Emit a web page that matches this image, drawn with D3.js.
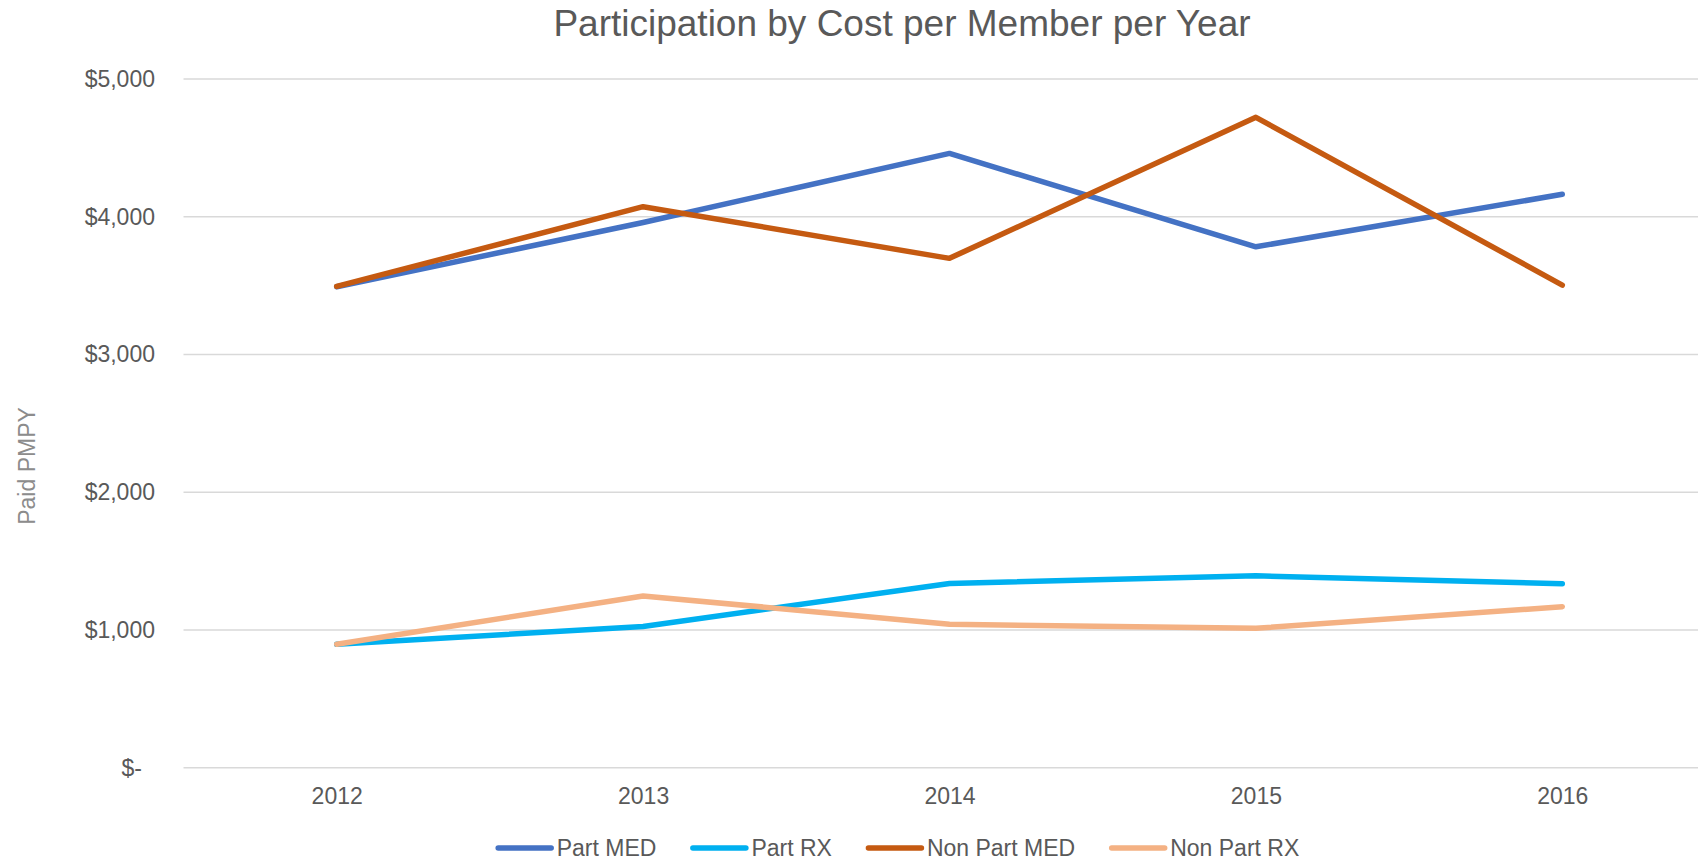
<!DOCTYPE html>
<html>
<head>
<meta charset="utf-8">
<script src="https://cdn.jsdelivr.net/npm/d3@7"></script>
<style>
  body { margin: 0; background: #fff; }
  svg { display: block; font-family: "Liberation Sans", Arial, sans-serif; }
</style>
</head>
<body>
<script>
var years = ["2012", "2013", "2014", "2015", "2016"];
var seriesNames = ["Part MED", "Part RX", "Non Part MED", "Non Part RX"];
var seriesColors = ["#4472C4", "#00B0F0", "#C55A11", "#F4B183"];
var partMed = [3492, 3958, 4460, 3782, 4163];
var partRx = [896, 1025, 1338, 1393, 1336];
var nonPartMed = [3494, 4073, 3698, 4722, 3504];
var nonPartRx = [896, 1247, 1041, 1012, 1169];
var yTicks = [0, 1000, 2000, 3000, 4000, 5000];

var width = 1698, height = 860;
var values = [partMed, partRx, nonPartMed, nonPartRx];

var svg = d3.select("body").append("svg")
    .attr("width", width)
    .attr("height", height);

var x = d3.scalePoint()
    .domain(years)
    .range([183.5, 1715.5])
    .padding(0.5);

var y = d3.scaleLinear()
    .domain([0, 5000])
    .range([767.7, 79]);

// gridlines
svg.append("g")
    .selectAll("line")
    .data(yTicks)
    .enter().append("line")
      .attr("x1", 183.5)
      .attr("x2", 1715.5)
      .attr("y1", function(d) { return y(d); })
      .attr("y2", function(d) { return y(d); })
      .attr("stroke", "#d9d9d9")
      .attr("stroke-width", 1.5);

// y axis labels
var yAxis = d3.axisLeft(y)
    .tickValues(yTicks)
    .tickSize(0)
    .tickPadding(0)
    .tickFormat(function(d) { return d === 0 ? "$-" : "$" + d3.format(",")(d); });

var gy = svg.append("g")
    .attr("transform", "translate(155,0)")
    .call(yAxis);
gy.select(".domain").remove();
gy.selectAll("text")
    .attr("fill", "#595959")
    .style("font-size", "23px")
    .attr("dx", function(d) { return d === 0 ? -13 : 0; });

// x axis labels
var xAxis = d3.axisBottom(x).tickSize(0).tickPadding(0);
var gx = svg.append("g")
    .attr("transform", "translate(0,788)")
    .call(xAxis);
gx.select(".domain").remove();
gx.selectAll("text")
    .attr("fill", "#595959")
    .style("font-size", "23px")
    .attr("dy", "0.71em");

// lines
var line = d3.line()
    .x(function(d, i) { return x(years[i]); })
    .y(function(d) { return y(d); });

svg.append("g")
    .selectAll("path")
    .data(values)
    .enter().append("path")
      .attr("d", line)
      .attr("fill", "none")
      .attr("stroke", function(d, i) { return seriesColors[i]; })
      .attr("stroke-width", 5.5)
      .attr("stroke-linecap", "round")
      .attr("stroke-linejoin", "round");

// title
svg.append("text")
    .attr("x", 902)
    .attr("y", 36)
    .attr("text-anchor", "middle")
    .attr("fill", "#595959")
    .style("font-size", "37px")
    .text("Participation by Cost per Member per Year");

// y axis title
svg.append("text")
    .attr("transform", "translate(35,466) rotate(-90)")
    .attr("text-anchor", "middle")
    .attr("fill", "#8c8c8c")
    .style("font-size", "23px")
    .text("Paid PMPY");

// legend
var legend = svg.append("g").attr("transform", "translate(0,848)");
var lx = 496.7;
seriesNames.forEach(function(name, i) {
  legend.append("line")
      .attr("x1", lx + 1.5)
      .attr("x2", lx + 54.5)
      .attr("stroke", seriesColors[i])
      .attr("stroke-width", 5.5)
      .attr("stroke-linecap", "round");
  var t = legend.append("text")
      .attr("x", lx + 60)
      .attr("y", 8)
      .attr("fill", "#595959")
      .style("font-size", "23px")
      .text(name);
  lx += 60 + t.node().getComputedTextLength() + 35;
});
</script>
</body>
</html>
